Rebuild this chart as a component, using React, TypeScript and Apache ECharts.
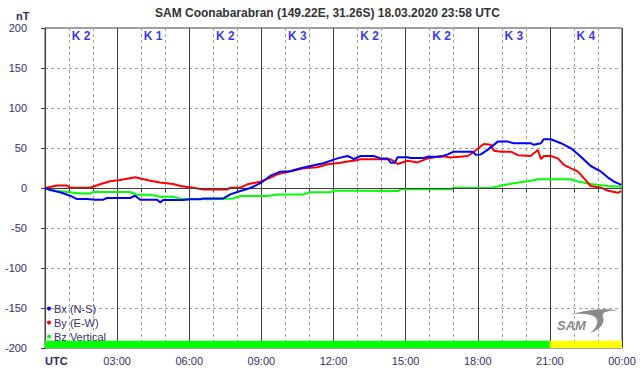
import React, { useEffect, useRef } from 'react';
import * as echarts from 'echarts';

const TITLE = 'SAM Coonabarabran (149.22E, 31.26S) 18.03.2020 23:58 UTC';
const UNIT = 'nT';
const seriesNames = ['Bx (N-S)', 'By (E-W)', 'Bz Vertical'];
const seriesColors = ['#0000ff', '#ff0000', '#00ff00'];

// hours since 00:00 UTC
const bxTime = [0, 0.21, 0.63, 1.04, 1.33, 1.75, 2.08, 2.42, 2.58, 3.54, 3.75, 3.96, 4.67, 4.79, 4.92, 5.75, 6.04, 6.46, 6.58, 7.42, 7.71, 8.13, 8.54, 8.96, 9.38, 9.79, 10.2, 10.63, 11.04, 11.58, 12.17, 12.58, 12.71, 12.83, 13.13, 13.67, 13.96, 14.25, 14.38, 14.54, 14.67, 15.08, 15.2, 15.75, 15.92, 16.46, 16.75, 17.0, 17.79, 17.92, 18.13, 18.42, 18.83, 19.25, 19.5, 20.2, 20.33, 20.63, 20.75, 21.04, 21.46, 21.88, 22.29, 22.7, 23.13, 23.42, 23.67, 23.97];
const bxValue = [0, -2.5, -5.4, -9.6, -13.8, -13.8, -14.6, -14.6, -12.5, -12.5, -9.6, -14.6, -14.6, -18, -15, -15, -14, -14, -13, -13, -8, -3.8, 0, 6, 15.4, 20.4, 21, 24.6, 27.5, 31, 37, 40, 38.4, 36, 40, 40, 37, 37, 31.6, 31.6, 38.4, 38.4, 37.5, 37.5, 39, 39, 42, 45.4, 45.4, 41.6, 42, 48, 58, 58, 56, 56, 54, 56, 61, 61, 56, 49.6, 39, 27.5, 20.4, 13, 8, 3.8];

const byTime = [0, 0.5, 0.92, 1.04, 1.88, 2.29, 2.71, 3.13, 3.75, 4.38, 4.79, 5.33, 5.63, 6.17, 6.58, 7.58, 7.71, 8.13, 8.42, 8.96, 9.38, 9.67, 10.2, 10.75, 11.33, 11.75, 12.29, 12.58, 12.83, 13.13, 14.38, 14.67, 15.08, 15.5, 15.92, 16.46, 16.88, 17.58, 17.83, 18.25, 18.54, 18.67, 18.96, 19.38, 19.67, 20.2, 20.5, 20.63, 20.75, 21.04, 21.33, 21.58, 21.88, 22.17, 22.42, 22.7, 23.13, 23.42, 23.83, 23.97];
const byValue = [0, 3, 3, 0.4, 0.4, 4.6, 8.4, 10, 13.4, 9, 7, 5, 2.5, 0.4, -2, -2, 0.4, 0.4, 4.6, 7.9, 12.9, 17, 21, 24.6, 26, 29.6, 31.6, 33, 34, 36, 36, 30, 34, 32, 37, 40, 38, 40, 45, 55, 54, 46.6, 45.4, 45.4, 41, 40, 47.5, 36, 40, 40, 37, 29, 24.6, 20.4, 12, 2.5, 0.4, -3.4, -6, -3.8];

const bzTime = [0, 0.5, 1.04, 1.46, 1.88, 2.0, 3.54, 3.83, 4.38, 4.79, 5.33, 5.63, 6.88, 7.83, 8.13, 9.25, 9.67, 10.75, 11.04, 11.88, 12.0, 12.71, 14.67, 14.79, 16.88, 17.0, 18.13, 18.54, 18.96, 19.5, 20.2, 20.5, 21.88, 22.17, 22.7, 23.42, 23.97];
const bzValue = [0, -3.8, -5.4, -7, -7, -5, -5, -8.4, -8.4, -10.9, -10.9, -13.4, -14, -13, -10, -10, -8, -8, -5.4, -5.4, -3.4, -3.4, -3.8, -1.6, -1.6, 0.4, 0, 0, 3, 6, 9, 10.9, 10.9, 8, 5, 2.5, 1.6];

const kBlockMid = [1.5, 4.5, 7.5, 10.5, 13.5, 16.5, 19.5, 22.5];
const kIndex = [2, 1, 2, 3, 2, 2, 3, 4];

const activityFrom = [0, 21];
const activityTo = [21, 24];
const activityColor = ['#00ff00', '#ffff00'];

const LABEL_COLOR = '#34306e';
const FONT = 'Arial, "Liberation Sans", sans-serif';

echarts.graphic.registerShape(
  'samSwoosh',
  echarts.graphic.extendPath(
    'M 14 6 C 30 0 55 -1 62 2 C 52 1 45 3 47 8 C 49 14 45 20 34 24 C 42 18 43 12 39 8 C 33 4 22 4 14 6 Z',
    {}
  )
);

export default function App() {
  const ref = useRef<HTMLDivElement>(null);
  useEffect(() => {
    document.body.style.margin = '0';
    if (!ref.current) return;
    const chart = echarts.init(ref.current, null, { renderer: 'svg' });
    const pad = (n: number) => (n < 10 ? '0' + n : '' + n);
    const times = [bxTime, byTime, bzTime];
    const values = [bxValue, byValue, bzValue];
    const lineSeries = seriesNames.map((name, i) => ({
      name,
      type: 'line',
      xAxisIndex: 0,
      yAxisIndex: 0,
      data: times[i].map((t, j) => [t, values[i][j]]),
      showSymbol: false,
      symbol: 'circle',
      lineStyle: { color: seriesColors[i], width: 2 },
      itemStyle: { color: seriesColors[i] },
      z: 5 - i,
      silent: true,
    }));
    chart.setOption({
      animation: false,
      grid: {
        left: 45,
        right: 20,
        top: 28,
        bottom: 28,
        show: true,
        borderColor: '#404040',
        borderWidth: 1,
        backgroundColor: 'transparent',
      },
      legend: {
        data: seriesNames,
        orient: 'vertical',
        left: 47,
        top: 303,
        icon: 'circle',
        itemWidth: 4,
        itemHeight: 4,
        itemGap: 3,
        padding: 0,
        textStyle: { color: LABEL_COLOR, fontSize: 11, fontFamily: FONT, padding: [0, 0, 0, -2], lineHeight: 11 },
      },
      xAxis: [
        {
          type: 'value',
          min: 0,
          max: 24,
          interval: 1,
          axisLine: { show: true, lineStyle: { color: '#404040', width: 1 } },
          axisTick: { show: true, length: 4, lineStyle: { color: '#404040' } },
          axisLabel: {
            margin: 7,
            color: LABEL_COLOR,
            fontSize: 11,
            fontFamily: FONT,
            alignMinLabel: 'left',
            formatter: (v: number) => {
              if (v === 0) return '{u|UTC}';
              if (v % 3 !== 0) return '';
              return pad(v % 24) + ':00';
            },
            rich: { u: { fontWeight: 'bold', fontSize: 11, color: '#2a2a66', fontFamily: FONT } },
          },
          splitLine: { show: true, lineStyle: { color: '#a0a0a0', type: [3, 3], width: 1 } },
        },
        {
          type: 'value',
          min: 0,
          max: 24,
          interval: 3,
          position: 'top',
          axisLine: { show: false },
          axisTick: { show: false },
          axisLabel: { show: false },
          splitLine: { show: true, lineStyle: { color: '#404040', type: 'solid', width: 1 } },
          z: 1,
        },
      ],
      yAxis: {
        type: 'value',
        min: -200,
        max: 200,
        interval: 50,
        axisLine: { show: true, lineStyle: { color: '#404040' } },
        axisTick: { show: true, length: 4, lineStyle: { color: '#404040' } },
        axisLabel: { margin: 18, color: LABEL_COLOR, fontSize: 11, fontFamily: FONT },
        splitLine: { show: true, lineStyle: { color: '#a0a0a0', type: [3, 3], width: 1 } },
      },
      series: [
        {
          name: 'helper',
          type: 'scatter',
          data: kBlockMid.map((h, i) => [h, 190, kIndex[i]]),
          symbol: 'circle',
          symbolSize: 1,
          itemStyle: { color: 'rgba(0,0,0,0)' },
          z: 2,
          silent: true,
          label: {
            show: true,
            position: 'inside',
            formatter: (p: any) => 'K ' + p.value[2],
            color: '#0000ee',
            fontWeight: 'bold',
            fontSize: 12,
            fontFamily: FONT,
          },
          markLine: {
            silent: true,
            symbol: ['none', 'none'],
            label: { show: false },
            lineStyle: { color: '#404040', type: 'solid', width: 1 },
            data: [{ yAxis: 0 }],
          },
          markArea: {
            silent: true,
            data: activityFrom.map((f, i) => [
              { xAxis: f, yAxis: -200, itemStyle: { color: activityColor[i], opacity: 1 } },
              { xAxis: activityTo[i], yAxis: -191 },
            ]),
          },
        },
        ...lineSeries,
      ],
      graphic: [
        {
          type: 'text',
          left: 155,
          top: 7,
          style: { text: TITLE, fill: '#333333', font: 'bold 12px ' + FONT },
        },
        {
          type: 'text',
          left: 16,
          top: 10,
          style: { text: UNIT, fill: '#2a2a66', font: 'bold 11px ' + FONT },
        },
        {
          type: 'samSwoosh',
          x: 556,
          y: 309,
          scaleX: 1,
          scaleY: 1,
          style: { fill: '#8a8a8a' },
          z: 10,
        },
        {
          type: 'text',
          x: 557,
          y: 319,
          style: { text: 'SAM', fill: '#8a8a8a', font: 'italic bold 13px ' + FONT },
          z: 10,
        },
      ],
    });
    return () => chart.dispose();
  }, []);
  return <div ref={ref} style={{ width: 642, height: 376 }} />;
}
